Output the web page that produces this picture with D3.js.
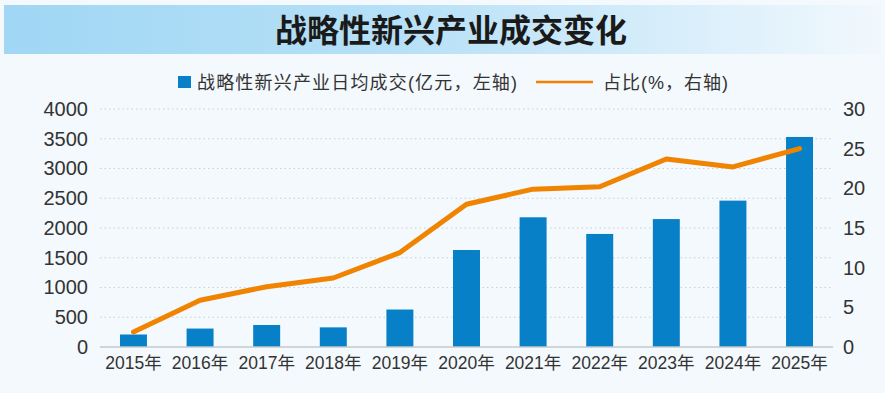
<!DOCTYPE html>
<html>
<head>
<meta charset="utf-8">
<script src="https://cdn.jsdelivr.net/npm/d3@7"></script>
<style>
  body { margin: 0; background: #f3f9fd; }
  text { font-family: "Liberation Sans", "Noto Sans CJK SC", sans-serif; fill: #333; }
</style>
</head>
<body>
<div id="chart"></div>
<script>
// data
let years = ["2015年","2016年","2017年","2018年","2019年","2020年","2021年","2022年","2023年","2024年","2025年"];
let turnover = [210, 310, 370, 330, 630, 1630, 2180, 1900, 2150, 2460, 3530];
let share = [1.9, 5.9, 7.6, 8.7, 11.9, 18.0, 19.9, 20.2, 23.7, 22.7, 25.0];
let leftTicks = [0, 500, 1000, 1500, 2000, 2500, 3000, 3500, 4000];
let rightTicks = [0, 5, 10, 15, 20, 25, 30];

let w = 885;
let h = 393;
let plotLeft = 100, plotRight = 833, plotTop = 109, plotBottom = 347;

let svg = d3.select("#chart").append("svg")
  .attr("width", w)
  .attr("height", h);

// title banner with fading gradient
let grad = svg.append("defs").append("linearGradient")
  .attr("id", "banner")
  .attr("x1", "0%").attr("x2", "100%");
grad.append("stop").attr("offset", "0%").attr("stop-color", "#a0d7f4");
grad.append("stop").attr("offset", "45%").attr("stop-color", "#b6e0f7");
grad.append("stop").attr("offset", "100%").attr("stop-color", "#f1f8fd");

svg.append("rect")
  .attr("x", 4).attr("y", 5)
  .attr("width", 877).attr("height", 49)
  .attr("fill", "url(#banner)");

svg.append("text")
  .attr("x", 451).attr("y", 42)
  .attr("text-anchor", "middle")
  .style("font-size", "32px")
  .style("font-weight", "bold")
  .style("font-family", "'Noto Sans CJK SC', sans-serif")
  .style("fill", "#1a1a1a")
  .text("战略性新兴产业成交变化");

// scales
let x = d3.scaleBand().domain(years).range([plotLeft, plotRight]).paddingInner(0.595).paddingOuter(0.3);
let yL = d3.scaleLinear().domain([0, 4000]).range([plotBottom, plotTop]);
let yR = d3.scaleLinear().domain([0, 30]).range([plotBottom, plotTop]);

// dotted gridlines
svg.append("g").selectAll("line")
  .data(leftTicks.filter(d => d > 0))
  .enter()
  .append("line")
  .attr("x1", plotLeft).attr("x2", plotRight)
  .attr("y1", d => yL(d)).attr("y2", d => yL(d))
  .attr("stroke", "#c9ced3")
  .attr("stroke-width", 1)
  .attr("stroke-dasharray", "1.5,3");

// left axis
let axL = svg.append("g")
  .attr("transform", "translate(" + plotLeft + ",0)")
  .call(d3.axisLeft(yL).tickValues(leftTicks).tickFormat(d3.format("d")).tickSize(0).tickPadding(12));
axL.select(".domain").remove();
axL.selectAll("text").style("font-size", "20px").style("fill", "#333");

// right axis
let axR = svg.append("g")
  .attr("transform", "translate(" + plotRight + ",0)")
  .call(d3.axisRight(yR).tickValues(rightTicks).tickSize(0).tickPadding(10));
axR.select(".domain").remove();
axR.selectAll("text").style("font-size", "20px").style("fill", "#333");

// bars
svg.append("g").selectAll("rect")
  .data(turnover)
  .enter()
  .append("rect")
  .attr("x", (d, i) => x(years[i]))
  .attr("width", x.bandwidth())
  .attr("y", d => yL(d))
  .attr("height", d => plotBottom - yL(d))
  .attr("fill", "#0780c8");

// baseline
svg.append("line")
  .attr("x1", plotLeft).attr("x2", plotRight)
  .attr("y1", plotBottom).attr("y2", plotBottom)
  .attr("stroke", "#c3c8cc")
  .attr("stroke-width", 1.5);

// x axis labels
let axX = svg.append("g")
  .attr("transform", "translate(0," + plotBottom + ")")
  .call(d3.axisBottom(x).tickSize(0).tickPadding(10));
axX.select(".domain").remove();
axX.selectAll("text").style("font-size", "17.5px").style("fill", "#333");

// share line
let line = d3.line()
  .x((d, i) => x(years[i]) + x.bandwidth() / 2)
  .y(d => yR(d));

svg.append("path")
  .datum(share)
  .attr("d", line)
  .attr("fill", "none")
  .attr("stroke", "#f08300")
  .attr("stroke-width", 5)
  .attr("stroke-linejoin", "round")
  .attr("stroke-linecap", "round");

// legend
let legend = svg.append("g");
legend.append("rect")
  .attr("x", 178).attr("y", 76)
  .attr("width", 13).attr("height", 12)
  .attr("fill", "#0780c8");
legend.append("text")
  .attr("x", 197).attr("y", 89)
  .attr("textLength", 320)
  .attr("lengthAdjust", "spacing")
  .style("font-size", "18px")
  .text("战略性新兴产业日均成交(亿元，左轴)");
legend.append("line")
  .attr("x1", 536).attr("x2", 593)
  .attr("y1", 82).attr("y2", 82)
  .attr("stroke", "#f08300")
  .attr("stroke-width", 2.5);
legend.append("text")
  .attr("x", 603).attr("y", 89)
  .attr("textLength", 125)
  .attr("lengthAdjust", "spacing")
  .style("font-size", "18px")
  .text("占比(%，右轴)");
</script>
</body>
</html>
